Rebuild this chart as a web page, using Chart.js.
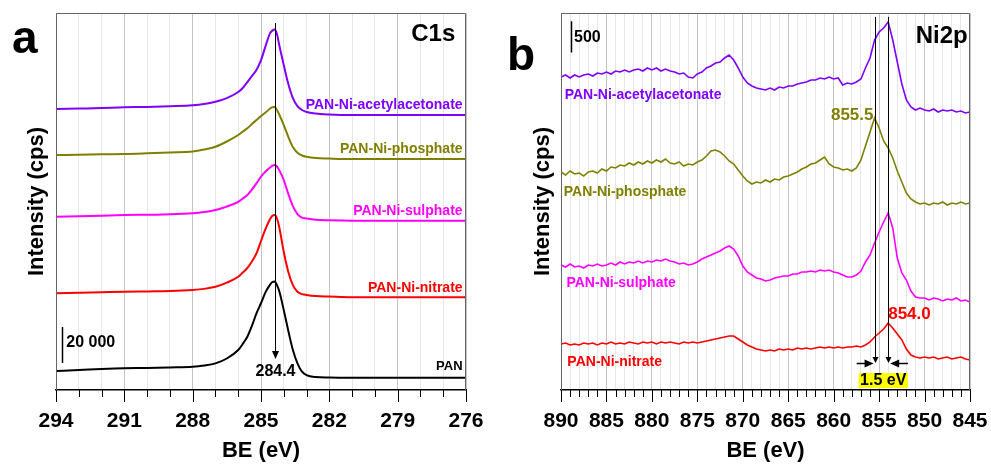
<!DOCTYPE html>
<html><head><meta charset="utf-8">
<script src="https://cdn.jsdelivr.net/npm/chart.js@4.4.1/dist/chart.umd.min.js"></script>
<style>
html,body{margin:0;padding:0;background:#fff;}
#wrap{position:relative;width:991px;height:466px;}
canvas{position:absolute;top:0;}
#ca{left:0;} #cb{left:495px;}
</style></head><body>
<div id="wrap"><canvas id="ca" width="495" height="466"></canvas><canvas id="cb" width="496" height="466"></canvas></div>
<script>
const FONT = "'Liberation Sans', Arial, Helvetica, sans-serif";

// ---------- Panel a : C1s (cps, stacked as plotted) ----------
const c1sBE = [294,293,292,291,290,289,288,287.5,287,286.5,286,285.8,285.6,285.4,285.2,285.0,284.8,284.6,284.5,284.4,284.3,284.2,284.0,283.8,283.6,283.4,283.2,283.0,282.6,282,281,280,279,278,277,276];
const c1sAcac = [156100,156400,156700,157100,157300,157700,158200,158900,160200,162200,165600,167800,171100,174500,177800,183300,191100,198300,199700,200300,197800,191700,180600,170000,162200,157800,155600,154500,153600,153100,152800,152800,152800,152800,152800,152800];
const c1sPhosphate = [130600,130700,131000,131100,131500,132000,132500,133600,135200,138100,141700,143600,145400,147800,150000,152200,154200,156400,157100,157200,155600,153100,147200,140600,135000,131800,130300,129600,128900,128600,128300,128300,128300,128300,128300,128300];
const c1sSulphate = [96300,96600,96900,97200,97400,97600,98200,98900,100000,102000,104600,106400,108300,111400,114800,118500,121400,123600,124700,125000,124200,122200,116700,108900,102200,97800,95800,95300,94600,94300,94100,94100,94100,94100,94100,94100];
const c1sNitrate = [53700,54000,54300,54600,54800,55000,55600,56200,57400,59700,62900,65300,67800,71400,75900,82800,89500,95000,96800,97200,95300,90600,76700,65600,58300,54600,53300,52800,52200,51900,51500,51500,51500,51500,51500,51500];
const c1sPAN = [10600,11100,11700,12100,12200,12500,12900,13600,14800,17500,22200,25600,29600,35600,42600,48200,54400,58600,60000,60300,58300,55000,44400,32800,22200,14800,10200,8300,7200,6900,6800,6800,6800,6800,6800,6800];
const c1sMajorTicks = [294,291,288,285,282,279,276];
const c1sPeak = 284.4;

// ---------- Panel b : Ni2p (cps, stacked as plotted) ----------
const ni2pBE = [890,889.5,889,888.5,888,887.5,887,886.5,886,885.5,
885,884.5,884,883.5,883,882.5,882,881.5,881,880.5,
880,879.5,879,878.5,878,877.5,877,876.5,876,875.5,
875,874.5,874,873.5,873,872.5,872,871.5,871,870.5,
870,869.5,869,868.5,868,867.5,867,866.5,866,865.5,
865,864.5,864,863.5,863,862.5,862,861.5,861,860.5,
860,859.5,859,858.5,858,857.5,857,856.5,856,855.5,
855,854.5,854,853.5,853,852.5,852,851.5,851,850.5,
850,849.5,849,848.5,848,847.5,847,846.5,846,845.5,
845];
const ni2pAcac = [5008,5040,4992,5040,5008,5040,5056,5024,5072,5056,
5088,5056,5104,5088,5120,5088,5120,5136,5104,5152,
5120,5152,5104,5136,5104,5088,5056,5072,5008,4992,
5056,5088,5152,5184,5232,5248,5312,5360,5280,5152,
5008,4912,4864,4832,4816,4800,4832,4800,4848,4832,
4864,4864,4896,4912,4928,4960,4960,4992,4976,5008,
4976,4992,4880,4912,4896,4928,4976,5152,5312,5600,
5728,5792,5888,5600,5248,4896,4640,4528,4480,4512,
4480,4464,4496,4448,4480,4464,4480,4448,4464,4432,
4448];
const ni2pPhosphate = [3488,3440,3504,3456,3472,3424,3488,3504,3472,3536,
3504,3568,3552,3600,3584,3632,3600,3648,3616,3664,
3632,3680,3648,3696,3632,3616,3648,3584,3616,3600,
3648,3680,3744,3824,3840,3808,3744,3664,3616,3520,
3424,3344,3296,3328,3312,3360,3328,3376,3360,3408,
3424,3456,3488,3536,3568,3616,3632,3680,3728,3616,
3568,3552,3520,3536,3504,3552,3680,3904,4128,4352,
4192,3984,3872,3712,3504,3328,3152,3056,3008,2976,
2992,2960,2992,2976,3008,2960,2992,2976,3008,2976,
2992];
const ni2pSulphate = [2000,1968,2016,1968,1984,1952,2000,1984,2016,1984,
2000,2032,2000,2048,2016,2048,2032,2064,2032,2064,
2048,2080,2064,2096,2064,2048,2016,2032,2000,2016,
2048,2096,2128,2160,2192,2224,2272,2304,2256,2144,
1984,1888,1840,1792,1776,1744,1760,1792,1808,1824,
1824,1856,1856,1888,1888,1904,1888,1920,1904,1920,
1888,1872,1840,1808,1808,1840,1904,2048,2160,2352,
2528,2688,2832,2592,2112,1872,1760,1584,1488,1472,
1472,1440,1472,1456,1424,1456,1440,1472,1424,1440,
1408];
const ni2pNitrate = [736,752,720,736,720,752,736,752,720,752,
736,768,736,752,736,768,752,736,768,752,
768,736,768,752,768,752,736,768,752,768,
752,768,784,800,816,832,848,864,864,816,
768,720,688,656,640,624,640,624,656,640,
656,640,672,656,672,656,672,688,672,688,
672,688,672,688,688,704,688,720,768,848,
912,976,1072,992,896,800,656,560,528,512,
528,512,528,496,512,528,496,512,528,496,
480];
const ni2pMajorTicks = [890,885,880,875,870,865,860,855,850,845];
const ni2pPeaks = [855.5, 854.0];

const seriesNames = ['PAN-Ni-acetylacetonate','PAN-Ni-phosphate','PAN-Ni-sulphate','PAN-Ni-nitrate','PAN'];
const COL = {acac:'#7f00ff', phos:'#808000', sulph:'#ff00ff', nitr:'#ff0000', pan:'#000000'};

// ---------- helpers ----------
function pts(xs, ys){ return xs.map((x,i)=>({x:x, y:ys[i]})); }
function ds(label, xs, ys, color, w, smooth){
  return {label, data:pts(xs,ys), borderColor:color, backgroundColor:color, borderWidth:w,
    pointRadius:0, fill:false, tension:0, cubicInterpolationMode: smooth?'monotone':'default'};
}
function txt(ctx, s, x, y, size, color, align, base){
  ctx.font = 'bold ' + size + 'px ' + FONT;
  ctx.fillStyle = color; ctx.textAlign = align || 'left'; ctx.textBaseline = base || 'middle';
  ctx.fillText(s, x, y);
}
function line(ctx, x1, y1, x2, y2, color, w){
  ctx.strokeStyle = color; ctx.lineWidth = w; ctx.beginPath(); ctx.moveTo(x1,y1); ctx.lineTo(x2,y2); ctx.stroke();
}
function head(ctx, x, y, dir, len, half, color){
  ctx.fillStyle = color; ctx.beginPath();
  if (dir==='down'){ ctx.moveTo(x,y); ctx.lineTo(x-half,y-len); ctx.lineTo(x+half,y-len); }
  else if (dir==='right'){ ctx.moveTo(x,y); ctx.lineTo(x-len,y-half); ctx.lineTo(x-len,y+half); }
  else { ctx.moveTo(x,y); ctx.lineTo(x+len,y-half); ctx.lineTo(x+len,y+half); }
  ctx.closePath(); ctx.fill();
}
function frameTicks(ctx, a, x, majors){
  x.ticks.forEach(t=>{
    const px = Math.round(x.getPixelForValue(t.value)) + 0.5;
    const len = majors.includes(t.value) ? 12 : 7;
    line(ctx, px, a.bottom, px, a.bottom + len, '#000', 1);
  });
  ctx.strokeStyle = '#666'; ctx.lineWidth = 1; ctx.beginPath();
  ctx.moveTo(a.left+0.5, a.bottom); ctx.lineTo(a.left+0.5, a.top+0.5);
  ctx.lineTo(a.right-0.5, a.top+0.5); ctx.lineTo(a.right-0.5, a.bottom); ctx.stroke();
}
function xScale(min, max, majors){
  return {
    type:'linear', reverse:true, min:min, max:max, position:'bottom',
    ticks:{stepSize:1, autoSkip:false, maxRotation:0, padding:2, color:'#000',
      font:{family:FONT, size:21, weight:'bold'},
      callback:v=> majors.includes(v) ? String(v) : ''},
    grid:{drawTicks:true, tickLength:17, tickColor:'rgba(0,0,0,0)', lineWidth:1,
      color:c=> (c.tick && majors.includes(c.tick.value)) ? '#c4c4c4' : '#e6e6e6'},
    border:{display:true, color:'#000', width:1.5},
    title:{display:true, text:'BE (eV)', color:'#000', font:{family:FONT, size:22, weight:'bold'}, padding:{top:0, bottom:2}},
    afterFit:s=>{ s.height = 76; }
  };
}
function yScale(max, padTop){
  return {
    type:'linear', min:0, max:max, display:true,
    ticks:{display:false}, grid:{display:false}, border:{display:false},
    title:{display:true, text:'Intensity (cps)', color:'#000', font:{family:FONT, size:22, weight:'bold'}, padding:{top:padTop, bottom:0}},
    afterFit:s=>{ s.width = 36; }
  };
}

// ---------- Panel a ----------
const annA = {
  id:'annA',
  afterDraw(chart){
    const {ctx, chartArea:a, scales:{x, y}} = chart;
    const X = v=>x.getPixelForValue(v), Y = v=>y.getPixelForValue(v);
    ctx.save();
    frameTicks(ctx, a, x, c1sMajorTicks);
    const px = Math.round(X(c1sPeak)) + 0.5;
    line(ctx, px, Y(203900), px, Y(17200) - 6, '#000', 1);
    head(ctx, px, Y(17200), 'down', 8, 3.5, '#000');
    txt(ctx, '284.4', px, Y(10000), 16, '#000', 'center');
    const sx = Math.round(X(293.72)) + 0.5;
    line(ctx, sx, Y(35000), sx, Y(15000), '#000', 1.5);
    txt(ctx, '20 000', X(293.55), Y(26500), 16, '#000', 'left');
    const cols = [COL.acac, COL.phos, COL.sulph, COL.nitr, COL.pan];
    const ly = [158300, 133900, 99500, 56800, 13300];
    seriesNames.forEach((n,i)=> txt(ctx, n, X(276.15), Y(ly[i]), i===4 ? 13 : 14, cols[i], 'right'));
    txt(ctx, 'C1s', X(276.47), Y(197800), 24, '#000', 'right');
    txt(ctx, 'a', 12, 53, 46, '#000', 'left', 'alphabetic');
    ctx.restore();
  }
};

new Chart(document.getElementById('ca'), {
  type:'line',
  data:{datasets:[
    ds(seriesNames[4], c1sBE, c1sPAN, COL.pan, 2, true),
    ds(seriesNames[3], c1sBE, c1sNitrate, COL.nitr, 2, true),
    ds(seriesNames[2], c1sBE, c1sSulphate, COL.sulph, 2, true),
    ds(seriesNames[1], c1sBE, c1sPhosphate, COL.phos, 2, true),
    ds(seriesNames[0], c1sBE, c1sAcac, COL.acac, 2, true)
  ]},
  options:{
    responsive:false, animation:false, devicePixelRatio:1,
    layout:{padding:{left:20, right:29, top:13, bottom:0}},
    plugins:{legend:{display:false}, tooltip:{enabled:false}},
    scales:{x:xScale(276, 294, c1sMajorTicks), y:yScale(209500, 4)}
  },
  plugins:[annA]
});

// ---------- Panel b ----------
const annB = {
  id:'annB',
  afterDraw(chart){
    const {ctx, chartArea:a, scales:{x, y}} = chart;
    const X = v=>x.getPixelForValue(v), Y = v=>y.getPixelForValue(v);
    ctx.save();
    frameTicks(ctx, a, x, ni2pMajorTicks);
    ctx.fillStyle = '#ffff00';
    ctx.fillRect(X(857.25), Y(272), X(851.83) - X(857.25), Y(32) - Y(272));
    txt(ctx, '1.5 eV', X(854.55), Y(152), 16, '#000', 'center');
    ni2pPeaks.forEach(p=>{
      const px = Math.round(X(p)) + 0.5;
      line(ctx, px, Y(5970), px, Y(432) - 5, '#000', 1);
      head(ctx, px, Y(432), 'down', 6, 3, '#000');
    });
    const ay = Math.round(Y(432)) + 0.5;
    line(ctx, X(857.47), ay, X(ni2pPeaks[0]) - 8, ay, '#000', 1.5);
    head(ctx, X(ni2pPeaks[0]) - 1, ay, 'right', 9, 4, '#000');
    line(ctx, X(851.83), ay, X(ni2pPeaks[1]) + 9, ay, '#000', 1.5);
    head(ctx, X(ni2pPeaks[1]) + 2, ay, 'left', 9, 4, '#000');
    txt(ctx, '855.5', X(855.62), Y(4400), 17, COL.phos, 'right');
    txt(ctx, '854.0', X(854.0), Y(1216), 17, COL.nitr, 'left');
    const sx = Math.round(X(888.93)) + 0.5;
    line(ctx, sx, Y(5900), sx, Y(5400), '#000', 1.5);
    txt(ctx, '500', X(888.57), Y(5640), 16, '#000', 'left');
    txt(ctx, 'Ni2p', X(845.25), Y(5656), 24, '#000', 'right');
    const cols = [COL.acac, COL.phos, COL.sulph, COL.nitr];
    const lx = [889.6, 889.7, 889.4, 889.3];
    const ly = [4720, 3173, 1707, 453];
    for (let i=0;i<4;i++) txt(ctx, seriesNames[i], X(lx[i]), Y(ly[i]), 14, cols[i], 'left');
    txt(ctx, 'b', 12, 70, 46, '#000', 'left', 'alphabetic');
    ctx.restore();
  }
};

new Chart(document.getElementById('cb'), {
  type:'line',
  data:{datasets:[
    ds(seriesNames[3], ni2pBE, ni2pNitrate, COL.nitr, 1.6, false),
    ds(seriesNames[2], ni2pBE, ni2pSulphate, COL.sulph, 1.6, false),
    ds(seriesNames[1], ni2pBE, ni2pPhosphate, COL.phos, 1.6, false),
    ds(seriesNames[0], ni2pBE, ni2pAcac, COL.acac, 1.6, false)
  ]},
  options:{
    responsive:false, animation:false, devicePixelRatio:1,
    layout:{padding:{left:30, right:21, top:13, bottom:0}},
    plugins:{legend:{display:false}, tooltip:{enabled:false}},
    scales:{x:xScale(845, 890, ni2pMajorTicks), y:yScale(6032, 5)}
  },
  plugins:[annB]
});
</script>
</body></html>
